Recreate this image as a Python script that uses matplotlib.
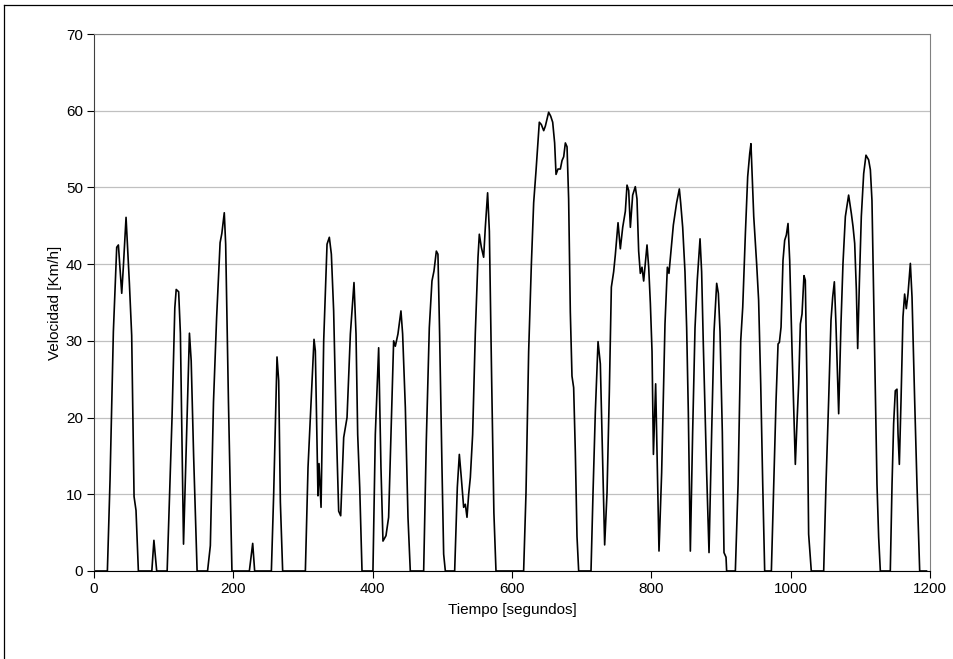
import matplotlib
matplotlib.use("Agg")
import matplotlib.pyplot as plt
from matplotlib.lines import Line2D

# tiempo [s] y velocidad [km/h]
tiempo = [
    0, 19.2, 23, 27.8, 32.6, 35, 39.8, 42.1, 46, 50.8, 54.1, 57.5, 60.3, 63.7,
    83, 86, 90,
    105, 112, 116, 118, 121.5, 124, 128.5, 133, 137, 139.5, 143, 148,
    163, 167, 171.5, 176, 181, 183.5, 187, 189, 193, 198,
    223, 227.8, 230.6,
    254.6, 257.9, 262.7, 265.1, 267.5, 270.8,
    303.4, 307.2, 310.5, 315.8, 317.7, 321.5, 323, 325.9, 329.7, 334.5, 337.8,
    340.7, 344, 347.4, 351.2, 354.1, 358.4, 363.2, 368, 373.2, 376.1, 378.5,
    381.4, 384.7,
    400.4, 403.8, 408.6, 411.9, 414.8, 419.1, 422.9, 426.3, 430.1, 432.5, 436.3,
    440.6, 443, 446.9, 450.7, 454,
    473.2, 477, 481.3, 485.1, 488, 491.4, 493.7, 496.1, 499.5, 501.9, 504.3,
    517.7, 521.5, 524.4, 527.2, 530.6, 533, 535.4, 537.8, 540.2, 543.5, 547.3,
    551.2, 553.1, 556, 559.3, 561.7, 565, 567.5, 570.8, 574, 577,
    616.7, 620.1, 623.9, 627.8, 631.1, 634.5, 639.2, 642.1, 645.5, 647.9, 652.6,
    655.5, 658.4, 661.2, 663.2, 666, 669.4, 671.8, 674.2, 676.6, 679, 681.3,
    683.7, 686.1, 688.5, 690.9, 693.3, 695.7,
    713.4, 716.3, 719.6, 723.5, 726.8, 729.2, 733, 736.4, 739.7, 742.6, 745.9,
    748.3, 752.2, 755.5, 758.9, 762.7, 765.1, 767.5, 769.9, 773.2, 777, 779.4,
    781.8, 784.2, 786.6, 789, 791.4, 793.8, 796.2, 798.6, 801, 803, 806.2, 811,
    814.8, 819.6, 823, 825.3, 829.2, 831.6, 836.3, 840.2, 842.1, 845, 848.3,
    850.7, 853.1, 856, 859.3, 862.7, 866, 869.9, 872.2, 874.6, 879.4, 882.8,
    886.6, 890, 893.8, 896.2, 898.6, 901.9, 904.3, 907.2, 908.1,
    920.6, 924.5, 928.3, 931.2, 935, 938.3, 941.2, 943, 947, 951.2, 954, 957,
    959.9, 962.7,
    972.3, 975.7, 979, 981.9, 983.8, 986.2, 989, 991.4, 993.8, 996.2, 998.6,
    1002, 1006.7, 1009, 1011.5, 1013.9, 1016.3, 1019.1, 1021, 1023.4, 1025.8,
    1029.6,
    1047.4, 1050.7, 1054.5, 1057.9, 1060.3, 1062.7, 1065, 1068.9, 1072.2, 1075.1,
    1078.5, 1083.2, 1087.1, 1089.5, 1091.9, 1094.3, 1096.2, 1098.6, 1101.4,
    1104.8, 1108.1, 1111.9, 1114.4, 1116.7, 1120.1, 1123.9, 1126.3, 1128.7,
    1143, 1145.5, 1147.8, 1150.2, 1152.6, 1154.1, 1156, 1158.4, 1161.2, 1163.6,
    1166, 1168.4, 1171.8, 1174.2, 1178, 1181.3, 1185.2, 1195,
]

velocidad = [
    0, 0, 11.8, 31.2, 42.2, 42.5, 36.2, 39.6, 46.1, 37.5, 30.7, 9.7, 7.9, 0,
    0, 4, 0,
    0, 20, 34.3, 36.7, 36.4, 31, 3.5, 17.8, 31, 27.4, 15, 0,
    0, 3.3, 22, 33, 42.8, 44, 46.7, 42.6, 22, 0,
    0, 3.6, 0,
    0, 10, 27.9, 24.8, 9, 0,
    0, 13.5, 20, 30.2, 28.7, 9.8, 14, 8.3, 30, 42.6, 43.5,
    41.3, 33.9, 20, 7.8, 7.2, 17.4, 20, 30.9, 37.6, 30.9, 17.8,
    10.9, 0,
    0, 17.8, 29.1, 13.5, 3.9, 4.6, 7, 17.8, 30, 29.3, 30.9,
    33.9, 30.9, 21.3, 7, 0,
    0, 17, 31.7, 37.8, 39.1, 41.7, 41.3, 30.9, 13.5, 2.2, 0,
    0, 10.9, 15.2, 12.2, 8.3, 8.7, 7, 10, 12.2, 17.8, 30.9,
    40.9, 43.9, 42.2, 40.9, 44.8, 49.3, 44.3, 24.9, 7.6, 0,
    0, 10.2, 28.6, 40, 48, 52.2, 58.5, 58.2, 57.4, 58, 59.8,
    59.3, 58.5, 55.8, 51.7, 52.4, 52.4, 53.5, 54, 55.8, 55.3, 48.5,
    33.8, 25.4, 23.9, 15.5, 4.5, 0,
    0, 10.2, 20.7, 29.9, 27, 18, 3.4, 10.2, 23.3, 37, 39,
    41.2, 45.4, 42, 44.8, 46.9, 50.3, 49.6, 44.8, 49, 50.1, 48.5,
    41.7, 38.8, 39.6, 37.8, 40.1, 42.5, 39.6, 34.9, 28.6, 15.2, 24.4, 2.6,
    12.8, 32.2, 39.6, 38.8, 42.7, 45.1, 48, 49.8, 48, 44.8, 39,
    31.7, 20.7, 2.6, 18.1, 31.7, 38, 43.3, 39, 29.6, 12.8, 2.4,
    18.1, 31.2, 37.5, 36.2, 31.2, 18.1, 2.4, 1.8, 0,
    0, 11.3, 30, 34.4, 44, 51.4, 54.4, 55.7, 46.2, 40, 35.3, 24.4,
    11.3, 0,
    0, 11.3, 22.2, 29.6, 29.8, 31.8, 40.5, 43.1, 43.8, 45.3, 40.5,
    28.7, 13.9, 19.2, 24.4, 32.2, 33.5, 38.5, 37.9, 24.4, 4.8,
    0,
    0, 11.3, 22.2, 32.7, 35.7, 37.7, 32.2, 20.5, 32.2, 40.1,
    46.2, 49, 46.6, 44.9, 42.7, 36.6, 29, 37.5, 46.2,
    51.8, 54.2, 53.6, 52.3, 48.3, 30.9, 11.3, 4.4, 0,
    0, 11.3, 19.2, 23.5, 23.7, 17.9, 13.9, 22.2, 33.1, 36.1,
    34.2, 36.1, 40.1, 35.7, 22.2, 11.3, 0, 0,
]

plt.rcParams['font.family'] = ['Liberation Sans', 'DejaVu Sans']

fig = plt.figure(figsize=(9.54, 6.59), dpi=100)
ax = fig.add_axes([94/954, (659-571)/659, (930-94)/954, (571-34)/659])

ax.plot(tiempo, velocidad, color='black', linewidth=1.2)

ax.set_xlim(0, 1200)
ax.set_ylim(0, 70)
ax.set_xticks(range(0, 1201, 200))
ax.set_yticks(range(0, 71, 10))
ax.grid(axis='y', color='#c0c0c0', linewidth=0.9)
ax.set_axisbelow(True)

ax.spines['top'].set_color('#808080')
ax.spines['right'].set_color('#808080')
ax.spines['left'].set_color('#404040')
ax.spines['bottom'].set_color('black')
ax.tick_params(direction='out', length=5, width=0.8, labelsize=11, colors='black', pad=3)

ax.set_xlabel('Tiempo [segundos]', fontsize=11, labelpad=5)
ax.set_ylabel('Velocidad [Km/h]', fontsize=11, labelpad=3)

# borde del area del grafico (recortado a la derecha y abajo)
fig.add_artist(Line2D([4.5/954, 1], [1-4.5/659, 1-4.5/659], color='black', linewidth=0.9))
fig.add_artist(Line2D([4.5/954, 4.5/954], [0, 1-4.5/659], color='black', linewidth=0.9))

fig.savefig('out.png', dpi=100)
